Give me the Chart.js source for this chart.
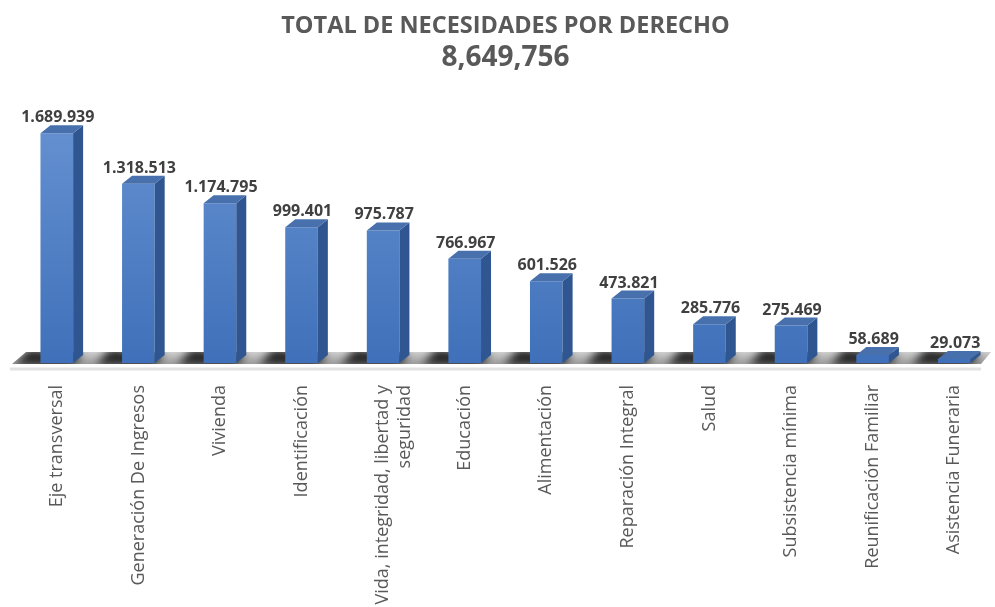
<!DOCTYPE html>
<html lang="es">
<head>
    <meta charset="UTF-8">
    <title>Total de necesidades por derecho</title>
    <script src="https://cdn.jsdelivr.net/npm/chart.js"></script>
    <style>
        html, body { margin: 0; padding: 0; background: #ffffff; }
        .chart-box { position: relative; width: 995px; height: 607px; }
    </style>
</head>
<body>
    <div class="chart-box">
        <canvas id="needsChart"></canvas>
    </div>

    <script>
        const categories = [
            'Eje transversal',
            'Generación De Ingresos',
            'Vivienda',
            'Identificación',
            ['Vida, integridad, libertad y', 'seguridad'],
            'Educación',
            'Alimentación',
            'Reparación Integral',
            'Salud',
            'Subsistencia mínima',
            'Reunificación Familiar',
            'Asistencia Funeraria'
        ];
        const needs = [1689939, 1318513, 1174795, 999401, 975787, 766967, 601526, 473821, 285776, 275469, 58689, 29073];
        const valueLabels = ['1.689.939', '1.318.513', '1.174.795', '999.401', '975.787', '766.967', '601.526', '473.821', '285.776', '275.469', '58.689', '29.073'];
        const totalLabel = '8,649,756';

        const FONT = '"Open Sans", sans-serif';
        const DEPTH_X = 10;
        const DEPTH_Y = 8;
        const FLOOR_H = 12;

        // front face gradient
        function frontFill(context) {
            const area = context.chart.chartArea;
            if (!area) return '#4a7cc4';
            const g = context.chart.ctx.createLinearGradient(0, area.top, 0, area.bottom);
            g.addColorStop(0, '#6a95d4');
            g.addColorStop(1, '#3f70b9');
            return g;
        }

        function floorPath(ctx, area) {
            const y = area.bottom + 1;
            ctx.beginPath();
            ctx.moveTo(area.left - 4, y);
            ctx.lineTo(area.left + 10, y - FLOOR_H);
            ctx.lineTo(area.right - 4, y - FLOOR_H);
            ctx.lineTo(area.right - 14, y);
            ctx.closePath();
        }

        // floor with soft shadows behind each bar
        const floorPlugin = {
            id: 'floor',
            beforeDatasetsDraw(chart) {
                const ctx = chart.ctx;
                const area = chart.chartArea;
                const y = area.bottom;
                ctx.save();
                // light line under the floor
                ctx.strokeStyle = '#e2e2e2';
                ctx.lineWidth = 3;
                ctx.beginPath();
                ctx.moveTo(area.left - 6, y + 6);
                ctx.lineTo(area.right - 14, y + 6);
                ctx.stroke();

                floorPath(ctx, area);
                const g = ctx.createLinearGradient(0, y - FLOOR_H, 0, y);
                g.addColorStop(0, '#d4d4d4');
                g.addColorStop(1, '#a0a0a0');
                ctx.fillStyle = g;
                ctx.fill();
                ctx.clip();

                ctx.filter = 'blur(4px)';
                ctx.fillStyle = 'rgba(20,20,20,0.9)';
                chart.getDatasetMeta(0).data.forEach(bar => {
                    const half = bar.width / 2;
                    const l = bar.x - half, r = bar.x + half;
                    ctx.beginPath();
                    ctx.moveTo(l - 26, y + 2);
                    ctx.lineTo(r, y + 2);
                    ctx.lineTo(r + DEPTH_X, y - DEPTH_Y);
                    ctx.lineTo(l - 12, y - FLOOR_H - 2);
                    ctx.closePath();
                    ctx.fill();
                });
                ctx.restore();
            }
        };

        // side + top faces and value labels
        const boxPlugin = {
            id: 'box3d',
            afterDatasetsDraw(chart) {
                const ctx = chart.ctx;
                const meta = chart.getDatasetMeta(0);
                ctx.save();
                meta.data.forEach((bar, i) => {
                    const half = bar.width / 2;
                    const l = bar.x - half, r = bar.x + half;
                    const t = bar.y, b = bar.base;
                    ctx.fillStyle = '#2f5691';
                    ctx.beginPath();
                    ctx.moveTo(r, t);
                    ctx.lineTo(r + DEPTH_X, t - DEPTH_Y);
                    ctx.lineTo(r + DEPTH_X, b - DEPTH_Y);
                    ctx.lineTo(r, b);
                    ctx.closePath();
                    ctx.fill();
                    ctx.fillStyle = '#4770ac';
                    ctx.beginPath();
                    ctx.moveTo(l, t);
                    ctx.lineTo(l + DEPTH_X, t - DEPTH_Y);
                    ctx.lineTo(r + DEPTH_X, t - DEPTH_Y);
                    ctx.lineTo(r, t);
                    ctx.closePath();
                    ctx.fill();
                    ctx.fillStyle = '#404040';
                    ctx.font = 'bold 16px ' + FONT;
                    ctx.textAlign = 'center';
                    ctx.textBaseline = 'alphabetic';
                    ctx.fillText(valueLabels[i], bar.x + DEPTH_X / 2 - 4, t - DEPTH_Y - 3);
                });
                ctx.restore();
            }
        };

        const ctx = document.getElementById('needsChart').getContext('2d');
        new Chart(ctx, {
            type: 'bar',
            data: {
                labels: categories,
                datasets: [{
                    label: 'Necesidades',
                    data: needs,
                    backgroundColor: frontFill,
                    borderWidth: 0,
                    categoryPercentage: 1,
                    barPercentage: 0.4
                }]
            },
            options: {
                responsive: true,
                maintainAspectRatio: false,
                animation: false,
                layout: { padding: { top: 0, left: 16, right: 0, bottom: 0 } },
                plugins: {
                    legend: { display: false },
                    tooltip: { enabled: false },
                    title: {
                        display: true,
                        text: 'TOTAL DE NECESIDADES POR DERECHO',
                        color: '#595959',
                        font: { family: FONT, size: 23.5, weight: 'bold' },
                        padding: { top: 12, bottom: 0 }
                    },
                    subtitle: {
                        display: true,
                        text: totalLabel,
                        color: '#595959',
                        font: { family: FONT, size: 28, weight: 'bold', lineHeight: 1.0 },
                        padding: { top: 4, bottom: 19 }
                    }
                },
                scales: {
                    x: {
                        grid: { display: false },
                        border: { display: false },
                        afterFit(scale) { scale.height = 244; },
                        ticks: {
                            color: '#595959',
                            font: { family: FONT, size: 18 },
                            minRotation: 90,
                            maxRotation: 90,
                            autoSkip: false,
                            padding: 14
                        }
                    },
                    y: {
                        display: false,
                        min: 0,
                        max: 2000000
                    }
                }
            },
            plugins: [floorPlugin, boxPlugin]
        });
    </script>
</body>
</html>
